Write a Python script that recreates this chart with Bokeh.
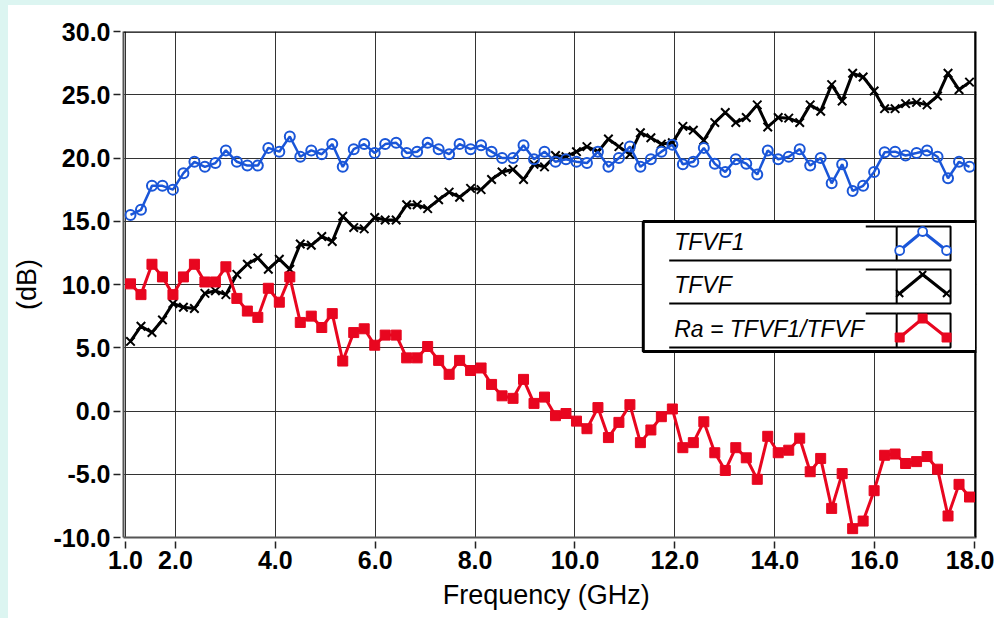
from bokeh.plotting import figure
from bokeh.models import (FixedTicker, Label, BoxAnnotation, Range1d, Spacer,
                          PrintfTickFormatter, ColumnDataSource, Span)
from bokeh.layouts import row, column
from bokeh.embed import file_html
from bokeh.resources import INLINE

# ---------------- data ----------------
freq = [1.10, 1.31, 1.53, 1.74, 1.95, 2.16, 2.38, 2.59, 2.80, 3.01,
        3.23, 3.44, 3.65, 3.86, 4.08, 4.29, 4.50, 4.72, 4.93, 5.14,
        5.35, 5.57, 5.78, 5.99, 6.20, 6.42, 6.63, 6.84, 7.05, 7.27,
        7.48, 7.69, 7.91, 8.12, 8.33, 8.54, 8.76, 8.97, 9.18, 9.39,
        9.61, 9.82, 10.03, 10.24, 10.46, 10.67, 10.88, 11.10, 11.31, 11.52,
        11.73, 11.95, 12.16, 12.37, 12.58, 12.80, 13.01, 13.22, 13.43, 13.65,
        13.86, 14.07, 14.28, 14.50, 14.71, 14.92, 15.14, 15.35, 15.56, 15.77,
        15.99, 16.20, 16.41, 16.62, 16.84, 17.05, 17.26, 17.47, 17.69, 17.90]

tfvf1 = [15.5, 15.9, 17.8, 17.8, 17.5, 18.8, 19.7, 19.3, 19.6, 20.6,
         19.7, 19.4, 19.4, 20.8, 20.5, 21.7, 20.1, 20.6, 20.3, 21.1,
         19.3, 20.7, 21.1, 20.4, 21.1, 21.2, 20.4, 20.5, 21.2, 20.7,
         20.3, 21.1, 20.7, 21.0, 20.5, 20.0, 20.0, 21.0, 19.9, 20.5,
         19.7, 19.9, 19.7, 19.6, 20.5, 19.3, 20.0, 20.9, 19.3, 19.9,
         20.5, 21.05, 19.5, 19.7, 20.8, 19.55, 18.9, 19.9, 19.55, 18.7,
         20.6, 19.9, 20.1, 20.7, 19.4, 20.0, 18.0, 19.5, 17.4, 17.8,
         18.9, 20.45, 20.5, 20.2, 20.4, 20.6, 20.1, 18.4, 19.7, 19.3]

tfvf = [5.5, 6.7, 6.2, 7.2, 8.5, 8.2, 8.1, 9.3, 9.5, 9.2,
        10.8, 11.6, 12.1, 11.2, 12.0, 11.2, 13.2, 13.1, 13.8, 13.4,
        15.4, 14.5, 14.4, 15.3, 15.1, 15.1, 16.3, 16.3, 16.0, 16.7,
        17.3, 16.9, 17.6, 17.5, 18.3, 18.9, 19.1, 18.3, 19.5, 19.3,
        20.2, 20.1, 20.5, 20.9, 20.5, 21.5, 20.9, 20.3, 22.0, 21.6,
        21.1, 21.2, 22.5, 22.2, 21.4, 22.8, 23.6, 22.8, 23.2, 24.2,
        22.45, 23.2, 23.15, 22.8, 24.2, 23.7, 25.8, 24.5, 26.7, 26.4,
        25.3, 23.9, 23.9, 24.3, 24.4, 24.2, 24.9, 26.7, 25.4, 26.0]

ra = [10.05, 9.2, 11.6, 10.6, 9.2, 10.6, 11.6, 10.2, 10.2, 11.4,
      8.9, 7.9, 7.4, 9.7, 8.6, 10.6, 7.0, 7.5, 6.6, 7.7,
      3.95, 6.2, 6.5, 5.2, 6.0, 6.0, 4.2, 4.2, 5.1, 4.0,
      2.9, 4.0, 3.2, 3.4, 2.1, 1.2, 1.0, 2.5, 0.6, 1.1,
      -0.37, -0.2, -0.8, -1.4, 0.27, -2.1, -0.9, 0.5, -2.5, -1.5,
      -0.45, 0.16, -2.9, -2.5, -0.85, -3.3, -4.7, -2.9, -3.7, -5.4,
      -2.0, -3.3, -3.1, -2.15, -4.8, -3.75, -7.7, -4.95, -9.3, -8.7,
      -6.3, -3.5, -3.4, -4.15, -4.0, -3.6, -4.6, -8.3, -5.8, -6.8]

x_ticks = [1, 2, 4, 6, 8, 10, 12, 14, 16, 18]
y_ticks = [-10, -5, 0, 5, 10, 15, 20, 25, 30]
legend_labels = ["TFVF1", "TFVF", "Ra = TFVF1/TFVF"]
x_label = "Frequency  (GHz)"
y_label = "(dB)"

# ---------------- styling ----------------
BLUE = "#1a56d8"
RED = "#e8061f"
CYAN = "#dcf5f1"
FONT = "Liberation Sans"

X0, X1 = 0.96, 18.04
Y0, Y1 = -10.0, 30.0

# page-pixel frame geometry (figure is offset 8px right, 5px down on the page)
FL, FR, FT, FB = 121, 976, 31, 537


def px2x(px):
    return X0 + (px - FL) / (FR - FL) * (X1 - X0)


def py2y(py):
    return Y1 - (py - FT) / (FB - FT) * (Y1 - Y0)


p = figure(width=986, height=613,
           x_range=Range1d(X0, X1), y_range=Range1d(Y0, Y1),
           output_backend="svg", toolbar_location=None,
           min_border_left=113, min_border_right=18,
           min_border_top=26, min_border_bottom=81)
p.background_fill_color = "white"
p.border_fill_color = "white"
p.outline_line_color = None

# axes
p.xaxis.ticker = FixedTicker(ticks=x_ticks)
p.yaxis.ticker = FixedTicker(ticks=y_ticks)
p.xaxis.formatter = PrintfTickFormatter(format="%.1f")
p.yaxis.formatter = PrintfTickFormatter(format="%.1f")
for ax in (p.xaxis, p.yaxis):
    ax.axis_line_color = "#555555"
    ax.axis_line_width = 2
    ax.major_tick_line_color = "#222222"
    ax.major_tick_line_width = 1.5
    ax.minor_tick_line_color = None
    ax.major_label_text_font = FONT
    ax.major_label_text_font_size = "25px"
    ax.major_label_text_font_style = "bold"
    ax.major_label_text_color = "black"
    ax.axis_label_text_font = FONT
    ax.axis_label_text_font_style = "normal"
    ax.axis_label_text_color = "black"
    ax.axis_label_text_font_size = "27px"

p.xaxis.major_tick_in = -4
p.xaxis.major_tick_out = 11
p.xaxis.major_label_standoff = 2
p.xaxis.axis_label = x_label
p.xaxis.axis_label_standoff = 8

p.yaxis.major_tick_in = -3
p.yaxis.major_tick_out = 10
p.yaxis.major_label_standoff = 3
p.yaxis.axis_label = y_label
p.yaxis.axis_label_standoff = 9

# grid
p.xgrid.ticker = FixedTicker(ticks=x_ticks)
p.ygrid.ticker = FixedTicker(ticks=y_ticks)
p.xgrid.grid_line_color = "#333333"
p.ygrid.grid_line_color = "#333333"
p.xgrid.grid_line_width = 1
p.ygrid.grid_line_width = 1

# top and right frame borders
p.add_layout(Span(location=Y1, dimension="width", line_color="black", line_width=2.5))
p.add_layout(Span(location=X1, dimension="height", line_color="black", line_width=3))

# data
src = ColumnDataSource(dict(f=freq, tfvf1=tfvf1, tfvf=tfvf, ra=ra))
p.line("f", "tfvf", source=src, line_color="black", line_width=3)
p.scatter("f", "tfvf", source=src, marker="x", size=12, line_color="black", line_width=2)
p.line("f", "tfvf1", source=src, line_color=BLUE, line_width=2.5)
p.scatter("f", "tfvf1", source=src, marker="circle", size=10, line_color=BLUE,
          fill_color=None, line_width=2)
p.line("f", "ra", source=src, line_color=RED, line_width=3)
p.scatter("f", "ra", source=src, marker="square", size=10, color=RED)

# ---------------- custom legend (HFSS style) ----------------
p.add_layout(BoxAnnotation(left=px2x(642), right=px2x(976), top=py2y(221), bottom=py2y(351),
                           fill_color="white", fill_alpha=1.0,
                           line_color="black", line_alpha=1.0, line_width=3))

row_tops = [226, 269, 313]
row_h = 34
styles = [(BLUE, "circle"), ("black", "x"), (RED, "square")]
rule_xs, rule_ys = [], []
for top in row_tops:
    bot = top + row_h
    rule_xs += [[px2x(668), px2x(896)], [px2x(865), px2x(896)],
                [px2x(896), px2x(950), px2x(950), px2x(896), px2x(896)]]
    rule_ys += [[py2y(bot), py2y(bot)], [py2y(top), py2y(top)],
                [py2y(top), py2y(top), py2y(bot), py2y(bot), py2y(top)]]
p.multi_line(rule_xs, rule_ys, line_color="black", line_width=2, level="overlay")

for top, label, (col, mk) in zip(row_tops, legend_labels, styles):
    sx = [px2x(899), px2x(922), px2x(946)]
    sy = [py2y(top + 24), py2y(top + 5), py2y(top + 24)]
    p.line(sx, sy, line_color=col, line_width=3, level="overlay")
    if mk == "circle":
        p.scatter(sx, sy, marker="circle", size=9, line_color=col, fill_color="white",
                  line_width=1.8, level="overlay")
    elif mk == "x":
        p.scatter(sx, sy, marker="x", size=10, line_color=col, line_width=2, level="overlay")
    else:
        p.scatter(sx, sy, marker="square", size=9, color=col, level="overlay")
    p.add_layout(Label(x=px2x(673), y=py2y(top + 15), text=label,
                       text_font=FONT, text_font_size="23px", text_font_style="italic",
                       text_color="black", text_baseline="middle", text_align="left",
                       level="overlay"))

left_pad = Spacer(width=8, height=618, styles={"background-color": CYAN})
top_pad = Spacer(width=986, height=5, styles={"background-color": CYAN})
layout = row(left_pad, column(top_pad, p))

open("out.html", "w").write(file_html(layout, INLINE))
